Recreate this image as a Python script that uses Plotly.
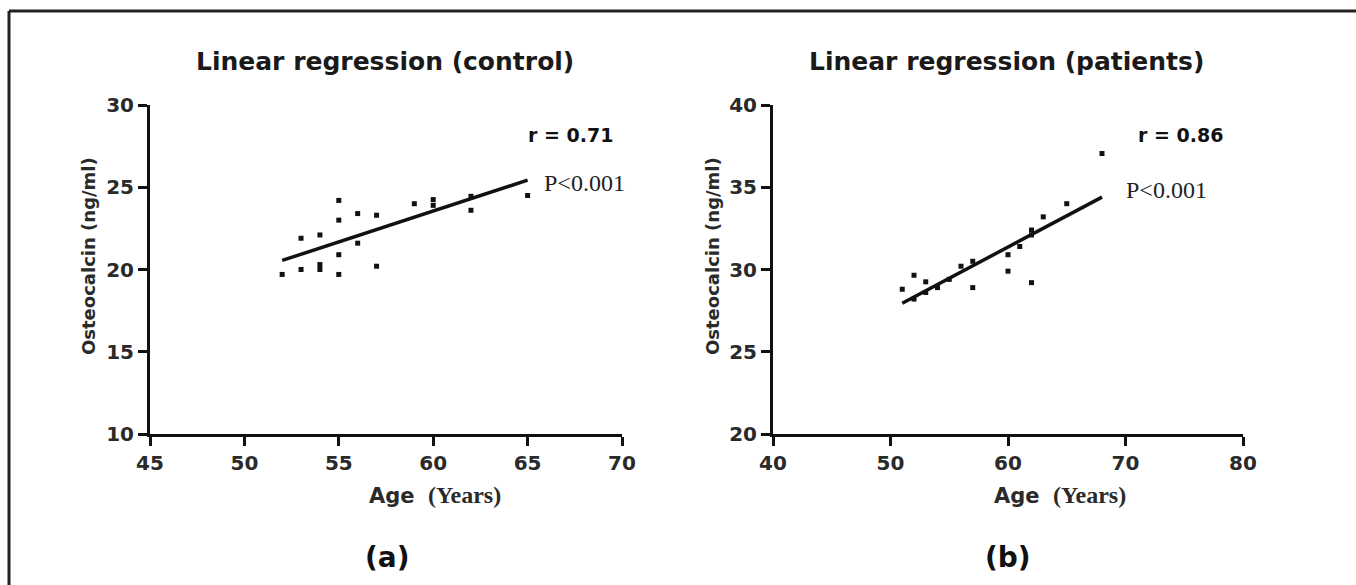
import plotly.graph_objects as go

# ---- data ----
ctrl_age = [52, 53, 53, 54, 54, 54, 55, 55, 55, 55, 56, 56, 57, 57, 59, 60, 60, 62, 62, 65]
ctrl_oc = [19.7, 21.9, 20.0, 22.1, 20.3, 20.0, 24.2, 23.0, 20.9, 19.7, 23.4, 21.6, 23.3, 20.2,
           24.0, 24.25, 23.9, 24.45, 23.6, 24.5]
ctrl_fit_x = [52, 65]
ctrl_fit_y = [20.55, 25.43]

pat_age = [51, 52, 52, 53, 53, 54, 55, 56, 57, 57, 60, 60, 61, 62, 62, 62, 63, 65, 68]
pat_oc = [28.8, 29.65, 28.2, 29.25, 28.6, 28.9, 29.4, 30.2, 30.5, 28.9, 30.9, 29.9, 31.4,
          32.4, 32.1, 29.2, 33.2, 34.0, 37.05]
pat_fit_x = [51, 68]
pat_fit_y = [27.95, 34.4]

ctrl_xticks = [45, 50, 55, 60, 65, 70]
ctrl_yticks = [10, 15, 20, 25, 30]
pat_xticks = [40, 50, 60, 70, 80]
pat_yticks = [20, 25, 30, 35, 40]

titles = ["Linear regression (control)", "Linear regression (patients)"]
r_texts = ["r = 0.71", "r = 0.86"]
p_text = "P<0.001"
panel_labels = ["(a)", "(b)"]
y_title = "Osteocalcin (ng/ml)"

W, H = 1356, 585
def px(x):
    return x / W
def py(y):
    return 1 - y / H

SANS = "DejaVu Sans"
SERIF = "Liberation Serif"
INK = "#111111"

fig = go.Figure()

fig.add_trace(go.Scatter(x=ctrl_age, y=ctrl_oc, mode="markers", xaxis="x", yaxis="y",
                         marker=dict(symbol="square", size=5, color=INK), showlegend=False))
fig.add_trace(go.Scatter(x=ctrl_fit_x, y=ctrl_fit_y, mode="lines", xaxis="x", yaxis="y",
                         line=dict(color=INK, width=3.5), showlegend=False))
fig.add_trace(go.Scatter(x=pat_age, y=pat_oc, mode="markers", xaxis="x2", yaxis="y2",
                         marker=dict(symbol="square", size=5, color=INK), showlegend=False))
fig.add_trace(go.Scatter(x=pat_fit_x, y=pat_fit_y, mode="lines", xaxis="x2", yaxis="y2",
                         line=dict(color=INK, width=3.5), showlegend=False))

axis_common = dict(showgrid=False, zeroline=False, showline=True, linewidth=3, linecolor=INK,
                   ticks="outside", ticklen=9, tickwidth=3, tickcolor=INK, automargin=False,
                   tickfont=dict(family=SANS, size=20, color="#2a2a2a", weight="bold"))

ydom = [py(434), py(105)]
fig.update_layout(
    width=W, height=H, autosize=False,
    margin=dict(l=0, r=0, t=0, b=0, pad=0, autoexpand=False),
    paper_bgcolor="white", plot_bgcolor="white",
    font=dict(family=SANS, color=INK),
    xaxis=dict(domain=[px(150), px(622)], range=[45, 70], tickvals=ctrl_xticks,
               anchor="y", **axis_common),
    yaxis=dict(domain=ydom, range=[10, 30], tickvals=ctrl_yticks, anchor="x", **axis_common),
    xaxis2=dict(domain=[px(773), px(1243)], range=[40, 80], tickvals=pat_xticks,
                anchor="y2", **axis_common),
    yaxis2=dict(domain=ydom, range=[20, 40], tickvals=pat_yticks, anchor="x2", **axis_common),
)

ann = []
for t, cx in zip(titles, [385, 1007]):
    ann.append(dict(text=t, x=px(cx), y=py(62), xref="paper", yref="paper", showarrow=False,
                    xanchor="center", yanchor="middle",
                    font=dict(family=SANS, size=25, color="#1a1a1a", weight="bold")))
for t, cx in zip(r_texts, [570, 1180]):
    ann.append(dict(text=t, x=px(cx), y=py(135), xref="paper", yref="paper", showarrow=False,
                    xanchor="center", yanchor="middle",
                    font=dict(family=SANS, size=19, color=INK, weight="bold")))
for lx, cy in [(542, 183), (1124, 190)]:
    ann.append(dict(text=p_text, x=px(lx), y=py(cy), xref="paper", yref="paper", showarrow=False,
                    xanchor="left", yanchor="middle",
                    font=dict(family=SERIF, size=24, color="#222222")))
xt = ("<b>Age</b>  <span style='font-family:Liberation Serif;font-size:24px'><b>(Years)</b></span>")
for cx in [435, 1060]:
    ann.append(dict(text=xt, x=px(cx), y=py(495), xref="paper", yref="paper", showarrow=False,
                    xanchor="center", yanchor="middle",
                    font=dict(family=SANS, size=21, color="#2a2a2a")))
for cx in [88, 712]:
    ann.append(dict(text=y_title, x=px(cx), y=py(256), xref="paper", yref="paper", showarrow=False,
                    xanchor="center", yanchor="middle", textangle=-90,
                    font=dict(family=SANS, size=18, color="#2a2a2a", weight="bold")))
for t, cx in zip(panel_labels, [387, 1008]):
    ann.append(dict(text=t, x=px(cx), y=py(557), xref="paper", yref="paper", showarrow=False,
                    xanchor="center", yanchor="middle",
                    font=dict(family=SANS, size=28, color=INK, weight="bold")))
fig.update_layout(annotations=ann)

# outer frame: only the top and left edges are visible in the picture
fig.add_shape(type="line", xref="paper", yref="paper",
              x0=px(9), x1=1.0, y0=py(11), y1=py(11),
              line=dict(color="#222222", width=3), layer="below")
fig.add_shape(type="line", xref="paper", yref="paper",
              x0=px(9), x1=px(9), y0=0.0, y1=py(11),
              line=dict(color="#222222", width=3), layer="below")

fig.write_html("out.html", config={"displayModeBar": False},
               post_script="document.body.style.margin='0';document.body.style.overflow='hidden';")
